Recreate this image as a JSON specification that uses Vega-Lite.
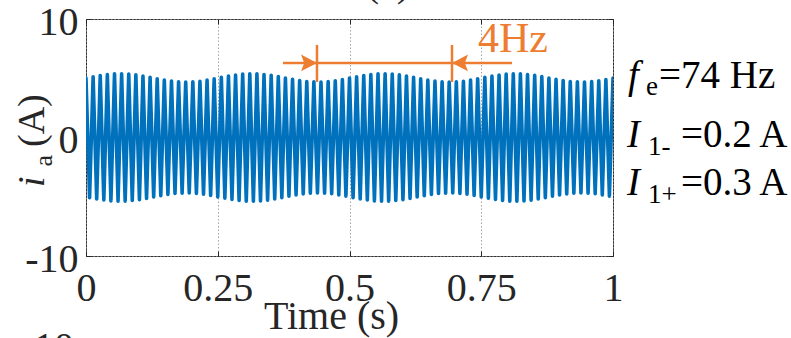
{
  "$schema": "https://vega.github.io/schema/vega-lite/v6.json",
  "width": 527,
  "height": 237,
  "autosize": {"type": "none"},
  "padding": {"left": 86, "top": 19, "right": 178, "bottom": 82},
  "background": "white",
  "config": {"font": "Liberation Serif", "view": {"stroke": "#333333", "strokeWidth": 1}},
  "resolve": {"axis": {"x": "independent", "y": "independent"}},
  "datasets": {
    "wave": [
      {"t":0,"y":5.01},{"t":0.0068,"y":-5.07},{"t":0.0135,"y":5.13},{"t":0.0203,"y":-5.18},{"t":0.027,"y":5.23},{"t":0.0338,"y":-5.28},{"t":0.0405,"y":5.32},{"t":0.0473,"y":-5.35},{"t":0.0541,"y":5.37},{"t":0.0608,"y":-5.38},{"t":0.0676,"y":5.38},{"t":0.0743,"y":-5.37},{"t":0.0811,"y":5.35},{"t":0.0878,"y":-5.32},{"t":0.0946,"y":5.29},{"t":0.1014,"y":-5.24},{"t":0.1081,"y":5.19},{"t":0.1149,"y":-5.14},{"t":0.1216,"y":5.08},{"t":0.1284,"y":-5.02},{"t":0.1351,"y":4.96},{"t":0.1419,"y":-4.91},{"t":0.1486,"y":4.85},{"t":0.1554,"y":-4.8},{"t":0.1622,"y":4.76},{"t":0.1689,"y":-4.73},{"t":0.1757,"y":4.7},{"t":0.1824,"y":-4.69},{"t":0.1892,"y":4.68},{"t":0.1959,"y":-4.68},{"t":0.2027,"y":4.7},{"t":0.2095,"y":-4.72},{"t":0.2162,"y":4.75},{"t":0.223,"y":-4.79},{"t":0.2297,"y":4.84},{"t":0.2365,"y":-4.89},{"t":0.2432,"y":4.95},
      {"t":0.25,"y":-5.01},{"t":0.2568,"y":5.07},{"t":0.2635,"y":-5.13},{"t":0.2703,"y":5.18},{"t":0.277,"y":-5.23},{"t":0.2838,"y":5.28},{"t":0.2905,"y":-5.32},{"t":0.2973,"y":5.35},{"t":0.3041,"y":-5.37},{"t":0.3108,"y":5.38},{"t":0.3176,"y":-5.38},{"t":0.3243,"y":5.37},{"t":0.3311,"y":-5.35},{"t":0.3378,"y":5.32},{"t":0.3446,"y":-5.29},{"t":0.3514,"y":5.24},{"t":0.3581,"y":-5.19},{"t":0.3649,"y":5.14},{"t":0.3716,"y":-5.08},{"t":0.3784,"y":5.02},{"t":0.3851,"y":-4.96},{"t":0.3919,"y":4.91},{"t":0.3986,"y":-4.85},{"t":0.4054,"y":4.8},{"t":0.4122,"y":-4.76},{"t":0.4189,"y":4.73},{"t":0.4257,"y":-4.7},{"t":0.4324,"y":4.69},{"t":0.4392,"y":-4.68},{"t":0.4459,"y":4.68},{"t":0.4527,"y":-4.7},{"t":0.4595,"y":4.72},{"t":0.4662,"y":-4.75},{"t":0.473,"y":4.79},{"t":0.4797,"y":-4.84},{"t":0.4865,"y":4.89},{"t":0.4932,"y":-4.95},
      {"t":0.5,"y":5.01},{"t":0.5068,"y":-5.07},{"t":0.5135,"y":5.13},{"t":0.5203,"y":-5.18},{"t":0.527,"y":5.23},{"t":0.5338,"y":-5.28},{"t":0.5405,"y":5.32},{"t":0.5473,"y":-5.35},{"t":0.5541,"y":5.37},{"t":0.5608,"y":-5.38},{"t":0.5676,"y":5.38},{"t":0.5743,"y":-5.37},{"t":0.5811,"y":5.35},{"t":0.5878,"y":-5.32},{"t":0.5946,"y":5.29},{"t":0.6014,"y":-5.24},{"t":0.6081,"y":5.19},{"t":0.6149,"y":-5.14},{"t":0.6216,"y":5.08},{"t":0.6284,"y":-5.02},{"t":0.6351,"y":4.96},{"t":0.6419,"y":-4.91},{"t":0.6486,"y":4.85},{"t":0.6554,"y":-4.8},{"t":0.6622,"y":4.76},{"t":0.6689,"y":-4.73},{"t":0.6757,"y":4.7},{"t":0.6824,"y":-4.69},{"t":0.6892,"y":4.68},{"t":0.6959,"y":-4.68},{"t":0.7027,"y":4.7},{"t":0.7095,"y":-4.72},{"t":0.7162,"y":4.75},{"t":0.723,"y":-4.79},{"t":0.7297,"y":4.84},{"t":0.7365,"y":-4.89},{"t":0.7432,"y":4.95},
      {"t":0.75,"y":-5.01},{"t":0.7568,"y":5.07},{"t":0.7635,"y":-5.13},{"t":0.7703,"y":5.18},{"t":0.777,"y":-5.23},{"t":0.7838,"y":5.28},{"t":0.7905,"y":-5.32},{"t":0.7973,"y":5.35},{"t":0.8041,"y":-5.37},{"t":0.8108,"y":5.38},{"t":0.8176,"y":-5.38},{"t":0.8243,"y":5.37},{"t":0.8311,"y":-5.35},{"t":0.8378,"y":5.32},{"t":0.8446,"y":-5.29},{"t":0.8514,"y":5.24},{"t":0.8581,"y":-5.19},{"t":0.8649,"y":5.14},{"t":0.8716,"y":-5.08},{"t":0.8784,"y":5.02},{"t":0.8851,"y":-4.96},{"t":0.8919,"y":4.91},{"t":0.8986,"y":-4.85},{"t":0.9054,"y":4.8},{"t":0.9122,"y":-4.76},{"t":0.9189,"y":4.73},{"t":0.9257,"y":-4.7},{"t":0.9324,"y":4.69},{"t":0.9392,"y":-4.68},{"t":0.9459,"y":4.68},{"t":0.9527,"y":-4.7},{"t":0.9595,"y":4.72},{"t":0.9662,"y":-4.75},{"t":0.973,"y":4.79},{"t":0.9797,"y":-4.84},{"t":0.9865,"y":4.89},{"t":0.9932,"y":-4.95},{"t":1,"y":5.01}
    ],
    "hline": [{"t":0.3738,"t2":0.8083,"y":6.29}],
    "vbars": [{"t":0.4383,"y":4.68,"y2":7.81},{"t":0.6945,"y":4.68,"y2":7.81}],
    "arrowRight": [{"t":0.4232,"y":6.29}],
    "arrowLeft": [{"t":0.7097,"y":6.29}],
    "freqLabel": [{"t":0.7438,"y":7.22,"s":"4Hz"}],
    "rightItalic": [{"t":1.0285,"y":4.18,"s":"f"},{"t":1.0266,"y":-0.8,"s":"I"},{"t":1.0266,"y":-4.85,"s":"I"}],
    "rightSub": [{"t":1.0626,"y":3.59,"s":"e"},{"t":1.0664,"y":-1.48,"s":"1-"},{"t":1.0664,"y":-5.53,"s":"1+"}],
    "rightMain": [{"t":1.0873,"y":4.18,"s":"=74 Hz"},{"t":1.129,"y":-0.8,"s":"=0.2 A"},{"t":1.129,"y":-4.85,"s":"=0.3 A"}],
    "yti": [{"t":-0.0797,"y":-4.18,"s":"i"}],
    "ytsub": [{"t":-0.0645,"y":-2.45,"s":"a"}],
    "ytunit": [{"t":-0.0797,"y":-0.8,"s":"(A)"}],
    "topTitle": [{"t":0.573,"y":11.9,"s":"(c)"}],
    "nextLabel": [{"t":-0.0228,"y":-18.78,"s":"10"}]
  },
  "layer": [
    {
      "data": {"name": "wave"},
      "mark": {"type": "line", "color": "#0072BD", "strokeWidth": 3.6, "strokeJoin": "round", "strokeCap": "round", "clip": true},
      "encoding": {
        "x": {"field": "t", "type": "quantitative", "scale": {"domain": [0, 1], "nice": false, "zero": false},
          "axis": {"orient": "bottom", "values": [0, 0.25, 0.5, 0.75, 1], "labelExpr": "'' + datum.value", "domain": false, "ticks": true, "tickSize": -5, "tickColor": "#262626", "tickWidth": 1,
            "grid": true, "gridDash": [1.5, 2], "gridColor": "#8c8c8c", "gridWidth": 0.8,
            "labelFont": "Liberation Serif", "labelFontSize": 40, "labelColor": "#262626", "labelBaseline": "alphabetic", "labelPadding": 49, "labelFlush": false,
            "title": "Time (s)", "titleFont": "Liberation Serif", "titleFontSize": 40, "titleFontWeight": "normal", "titleColor": "#262626", "titleX": 245, "titleY": 72, "titleBaseline": "alphabetic", "titleAlign": "center"}},
        "y": {"field": "y", "type": "quantitative", "scale": {"domain": [-10, 10], "nice": false, "zero": false},
          "axis": {"orient": "left", "values": [-10, 0, 10], "labelExpr": "'' + datum.value", "domain": false, "ticks": true, "tickSize": -5, "tickColor": "#262626",
            "grid": true, "gridDash": [1.5, 2], "gridColor": "#8c8c8c", "gridWidth": 0.8,
            "labelFont": "Liberation Serif", "labelFontSize": 40, "labelColor": "#262626", "labelBaseline": "middle", "labelPadding": 13, "labelOffset": 3, "labelFlush": false,
            "title": null}}
      }
    },
    {
      "data": {"name": "wave"},
      "mark": {"type": "point", "opacity": 0},
      "encoding": {
        "x": {"field": "t", "type": "quantitative", "axis": {"orient": "top", "values": [0, 0.25, 0.5, 0.75, 1], "labels": false, "domain": false, "grid": false, "ticks": true, "tickSize": -5, "tickColor": "#262626", "title": null}},
        "y": {"field": "y", "type": "quantitative", "axis": {"orient": "right", "values": [-10, 0, 10], "labels": false, "domain": false, "grid": false, "ticks": true, "tickSize": -5, "tickColor": "#262626", "title": null}}
      }
    },
    {
      "data": {"name": "hline"},
      "mark": {"type": "rule", "color": "#ED7D31", "strokeWidth": 2.5},
      "encoding": {
        "x": {"field": "t", "type": "quantitative", "axis": null},
        "x2": {"field": "t2"},
        "y": {"field": "y", "type": "quantitative", "axis": null}
      }
    },
    {
      "data": {"name": "vbars"},
      "mark": {"type": "rule", "color": "#ED7D31", "strokeWidth": 2.5},
      "encoding": {
        "x": {"field": "t", "type": "quantitative", "axis": null},
        "y": {"field": "y", "type": "quantitative", "axis": null},
        "y2": {"field": "y2"}
      }
    },
    {
      "data": {"name": "arrowRight"},
      "mark": {"type": "point", "shape": "M1,0L-1,-1.05L-0.6,0L-1,1.05Z", "size": 256, "filled": true, "color": "#ED7D31", "opacity": 1},
      "encoding": {
        "x": {"field": "t", "type": "quantitative", "axis": null},
        "y": {"field": "y", "type": "quantitative", "axis": null}
      }
    },
    {
      "data": {"name": "arrowLeft"},
      "mark": {"type": "point", "shape": "M-1,0L1,-1.05L0.6,0L1,1.05Z", "size": 256, "filled": true, "color": "#ED7D31", "opacity": 1},
      "encoding": {
        "x": {"field": "t", "type": "quantitative", "axis": null},
        "y": {"field": "y", "type": "quantitative", "axis": null}
      }
    },
    {
      "data": {"name": "freqLabel"},
      "mark": {"type": "text", "font": "Liberation Serif", "fontSize": 42, "color": "#ED7D31", "align": "left", "baseline": "alphabetic", "clip": false},
      "encoding": {
        "x": {"field": "t", "type": "quantitative", "axis": null},
        "y": {"field": "y", "type": "quantitative", "axis": null},
        "text": {"field": "s"}
      }
    },
    {
      "data": {"name": "rightItalic"},
      "mark": {"type": "text", "font": "Liberation Serif", "fontStyle": "italic", "fontSize": 39, "color": "#000000", "align": "left", "baseline": "alphabetic", "clip": false},
      "encoding": {
        "x": {"field": "t", "type": "quantitative", "axis": null},
        "y": {"field": "y", "type": "quantitative", "axis": null},
        "text": {"field": "s"}
      }
    },
    {
      "data": {"name": "rightSub"},
      "mark": {"type": "text", "font": "Liberation Serif", "fontSize": 27, "color": "#000000", "align": "left", "baseline": "alphabetic", "clip": false},
      "encoding": {
        "x": {"field": "t", "type": "quantitative", "axis": null},
        "y": {"field": "y", "type": "quantitative", "axis": null},
        "text": {"field": "s"}
      }
    },
    {
      "data": {"name": "rightMain"},
      "mark": {"type": "text", "font": "Liberation Serif", "fontSize": 39, "color": "#000000", "align": "left", "baseline": "alphabetic", "clip": false},
      "encoding": {
        "x": {"field": "t", "type": "quantitative", "axis": null},
        "y": {"field": "y", "type": "quantitative", "axis": null},
        "text": {"field": "s"}
      }
    },
    {
      "data": {"name": "yti"},
      "mark": {"type": "text", "font": "Liberation Serif", "fontStyle": "italic", "fontSize": 38, "color": "#262626", "angle": 270, "align": "left", "baseline": "alphabetic", "clip": false},
      "encoding": {
        "x": {"field": "t", "type": "quantitative", "axis": null},
        "y": {"field": "y", "type": "quantitative", "axis": null},
        "text": {"field": "s"}
      }
    },
    {
      "data": {"name": "ytsub"},
      "mark": {"type": "text", "font": "Liberation Serif", "fontSize": 26, "color": "#262626", "angle": 270, "align": "left", "baseline": "alphabetic", "clip": false},
      "encoding": {
        "x": {"field": "t", "type": "quantitative", "axis": null},
        "y": {"field": "y", "type": "quantitative", "axis": null},
        "text": {"field": "s"}
      }
    },
    {
      "data": {"name": "ytunit"},
      "mark": {"type": "text", "font": "Liberation Serif", "fontSize": 38, "color": "#262626", "angle": 270, "align": "left", "baseline": "alphabetic", "clip": false},
      "encoding": {
        "x": {"field": "t", "type": "quantitative", "axis": null},
        "y": {"field": "y", "type": "quantitative", "axis": null},
        "text": {"field": "s"}
      }
    },
    {
      "data": {"name": "topTitle"},
      "mark": {"type": "text", "font": "Liberation Serif", "fontSize": 40, "color": "#262626", "align": "center", "baseline": "alphabetic", "clip": false},
      "encoding": {
        "x": {"field": "t", "type": "quantitative", "axis": null},
        "y": {"field": "y", "type": "quantitative", "axis": null},
        "text": {"field": "s"}
      }
    },
    {
      "data": {"name": "nextLabel"},
      "mark": {"type": "text", "font": "Liberation Serif", "fontSize": 40, "color": "#262626", "align": "right", "baseline": "alphabetic", "clip": false},
      "encoding": {
        "x": {"field": "t", "type": "quantitative", "axis": null},
        "y": {"field": "y", "type": "quantitative", "axis": null},
        "text": {"field": "s"}
      }
    }
  ]
}
